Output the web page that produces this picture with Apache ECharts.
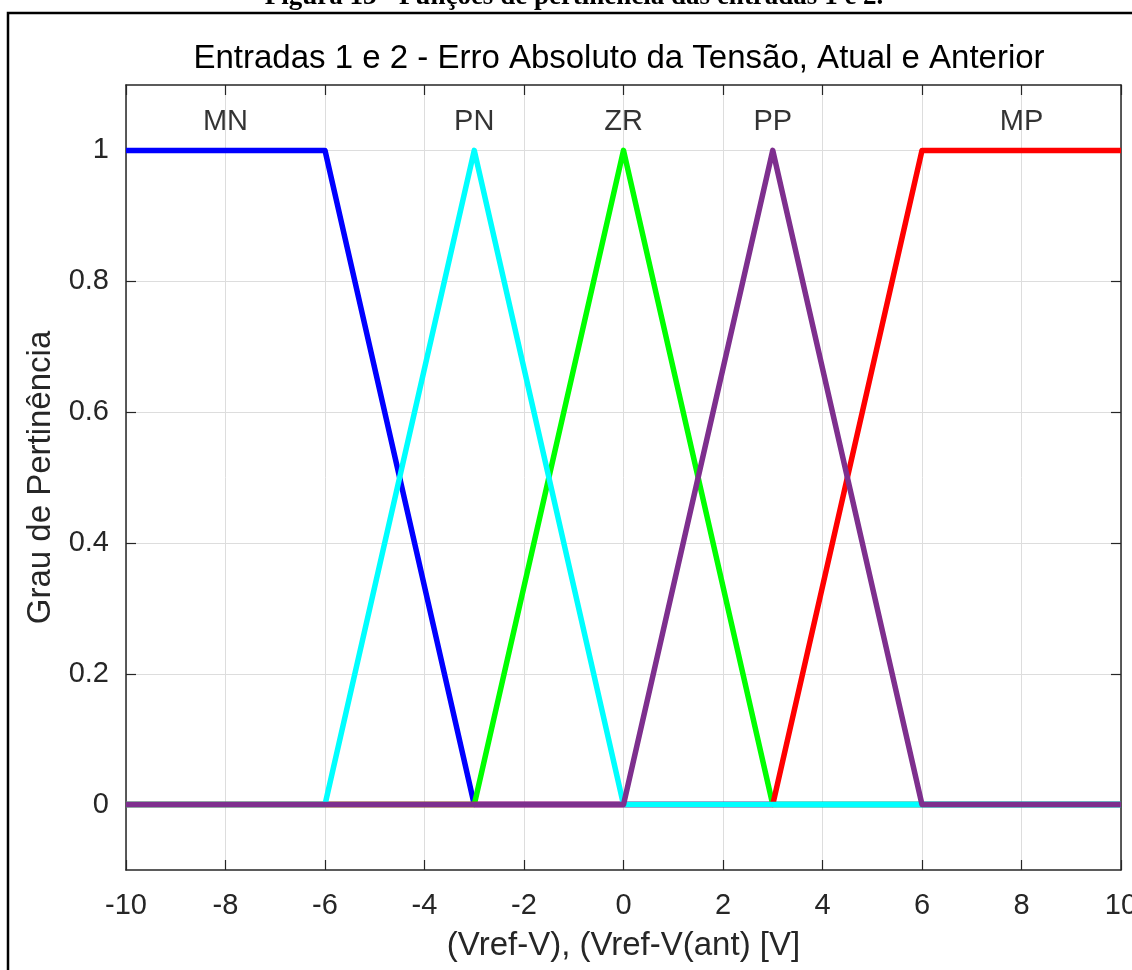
<!DOCTYPE html>
<html>
<head>
<meta charset="utf-8">
<script src="https://cdn.jsdelivr.net/npm/echarts@6/dist/echarts.min.js"></script>
<style>
  html, body { margin: 0; padding: 0; background: #fff; }
  #chart { width: 1132px; height: 970px; }
</style>
</head>
<body>
<div id="chart"></div>
<script>
// Membership functions for inputs 1 and 2 (breakpoints as [x, degree])
const MN = [[-10, 1], [-6, 1], [-3, 0], [10, 0]];
const PN = [[-10, 0], [-6, 0], [-3, 1], [0, 0], [10, 0]];
const ZR = [[-10, 0], [-3, 0], [0, 1], [3, 0], [10, 0]];
const PP = [[-10, 0], [0, 0], [3, 1], [6, 0], [10, 0]];
const MP = [[-10, 0], [3, 0], [6, 1], [10, 1]];

// Set names and where each name is written
const mfNames = ['MN', 'PN', 'ZR', 'PP', 'MP'];
const mfLabelX = [-8, -3, 0, 3, 8];
const mfLabelLevel = 1.044;

// Axis ticks
const xTicks = [-10, -8, -6, -4, -2, 0, 2, 4, 6, 8, 10];
const yTicks = [0, 0.2, 0.4, 0.6, 0.8, 1];

const FONT = '"Liberation Sans", Arial, Helvetica, sans-serif';
const AX = '#262626';
const GRID = '#dddddd';

const chart = echarts.init(document.getElementById('chart'), null, { renderer: 'canvas' });

function mfSeries(name, data, color) {
  return {
    name: name,
    type: 'line',
    data: data,
    symbol: 'none',
    silent: true,
    lineStyle: { color: color, width: 5.5, join: 'round', cap: 'butt' },
    emphasis: { disabled: true }
  };
}

const tickStyle = { inside: true, length: 10, lineStyle: { color: AX, width: 1.2 } };

chart.setOption({
  backgroundColor: '#ffffff',
  animation: false,
  title: {
    text: 'Entradas 1 e 2 - Erro Absoluto da Tensão, Atual e Anterior',
    left: 619,
    textAlign: 'center',
    top: 42,
    padding: 0,
    textStyle: { fontFamily: FONT, fontSize: 33, fontWeight: 'normal', color: '#000' }
  },
  grid: { left: 126, right: 11, top: 85, bottom: 100, containLabel: false, outerBoundsMode: 'none' },
  xAxis: [
    {
      type: 'value', min: -10, max: 10, interval: 2, position: 'bottom',
      name: '(Vref-V), (Vref-V(ant) [V]', nameLocation: 'middle', nameGap: 59,
      nameTextStyle: { fontFamily: FONT, fontSize: 33, color: AX },
      axisLine: { show: true, onZero: false, lineStyle: { color: AX, width: 1.5 } },
      axisTick: tickStyle,
      axisLabel: { fontFamily: FONT, fontSize: 29, color: AX, margin: 21, showMinLabel: true, showMaxLabel: true },
      splitLine: { show: true, lineStyle: { color: GRID, width: 1 } }
    },
    {
      type: 'value', min: -10, max: 10, interval: 2, position: 'top',
      axisLine: { show: true, onZero: false, lineStyle: { color: AX, width: 1.5 } },
      axisTick: tickStyle,
      axisLabel: { show: false },
      splitLine: { show: false }
    }
  ],
  yAxis: [
    {
      type: 'value', min: -0.1, max: 1.1, position: 'left',
      name: 'Grau de Pertinência', nameLocation: 'middle', nameGap: 69,
      nameTextStyle: { fontFamily: FONT, fontSize: 33, color: AX },
      axisLine: { show: true, onZero: false, lineStyle: { color: AX, width: 1.5 } },
      axisTick: Object.assign({ customValues: yTicks }, tickStyle),
      axisLabel: { customValues: yTicks, fontFamily: FONT, fontSize: 29, color: AX, margin: 17,
                   formatter: v => String(Math.round(v * 10) / 10) },
      splitLine: { show: true, lineStyle: { color: GRID, width: 1 } }
    },
    {
      type: 'value', min: -0.1, max: 1.1, position: 'right',
      axisLine: { show: true, onZero: false, lineStyle: { color: AX, width: 1.5 } },
      axisTick: Object.assign({ customValues: yTicks }, tickStyle),
      axisLabel: { show: false },
      splitLine: { show: false }
    }
  ],
  series: [
    mfSeries('MN', MN, '#0000ff'),
    mfSeries('ZR', ZR, '#00ff00'),
    mfSeries('MP', MP, '#ff0000'),
    mfSeries('PN', PN, '#00ffff'),
    mfSeries('PP', PP, '#7e2f8e'),
    {
      name: 'labels',
      type: 'scatter',
      silent: true,
      symbolSize: 1,
      itemStyle: { color: 'rgba(0,0,0,0)' },
      data: mfLabelX.map(x => [x, mfLabelLevel]),
      label: {
        show: true, position: 'inside',
        fontFamily: FONT, fontSize: 29, color: '#000',
        formatter: p => mfNames[p.dataIndex]
      },
      emphasis: { disabled: true }
    }
  ],
  graphic: [
    {
      type: 'rect',
      silent: true,
      shape: { x: 8, y: 13, width: 1300, height: 1100 },
      style: { fill: 'none', stroke: '#000', lineWidth: 2.5 }
    },
    {
      type: 'text',
      silent: true,
      x: 574, y: -3,
      style: {
        text: 'Figura 13 - Funções de pertinência das entradas 1 e 2.',
        fill: '#000',
        font: 'bold 27px "Liberation Serif", "Times New Roman", serif',
        align: 'center', verticalAlign: 'middle'
      }
    }
  ]
});
</script>
</body>
</html>
